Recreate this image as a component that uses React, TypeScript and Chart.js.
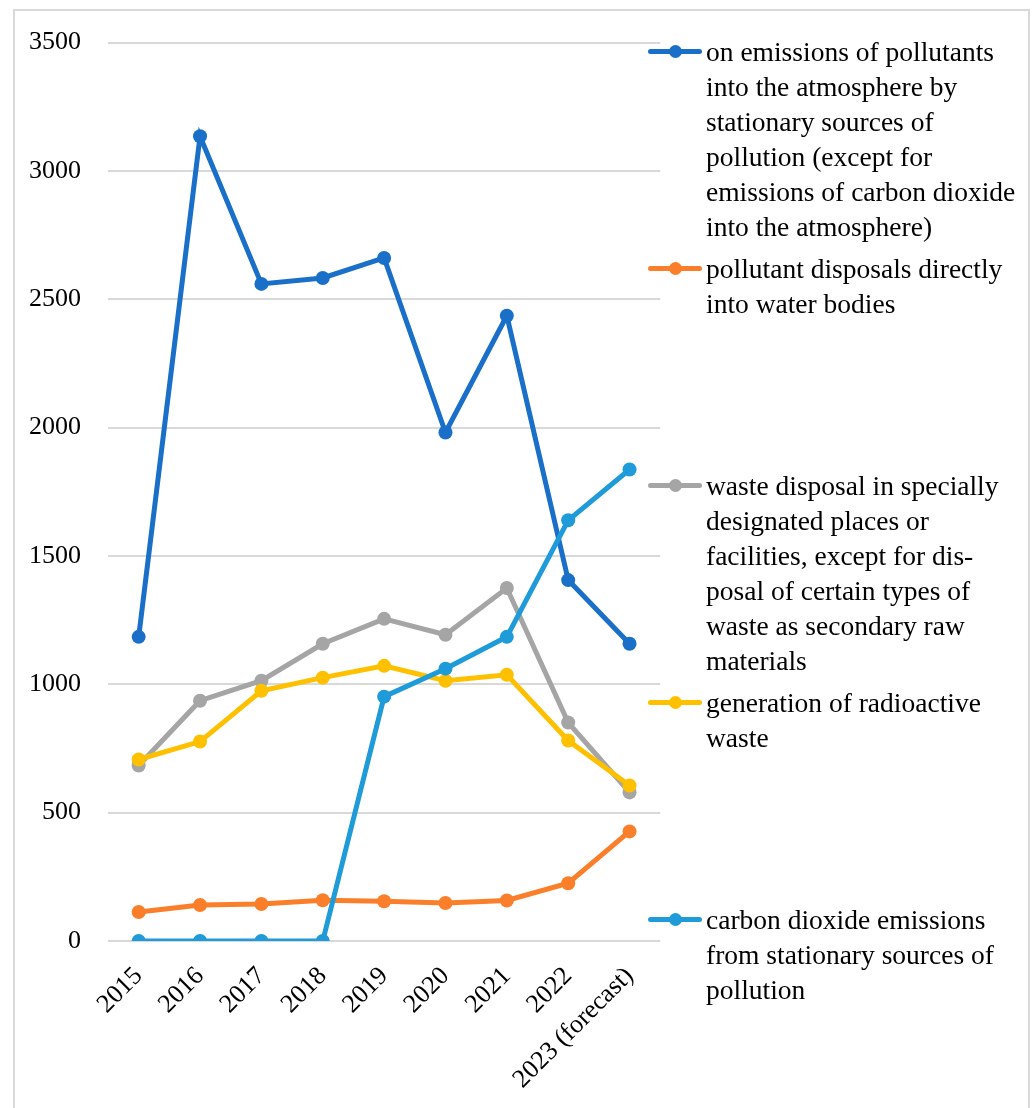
import React, { useEffect, useRef } from "react";
import { Chart, registerables } from "chart.js";

Chart.register(...registerables);

const categories = ["2015", "2016", "2017", "2018", "2019", "2020", "2021", "2022", "2023 (forecast)"];

const seriesNames = [
  ["on emissions of pollutants", "into the atmosphere by", "stationary sources of", "pollution (except for", "emissions of carbon dioxide", "into the atmosphere)"],
  ["pollutant disposals directly", "into water bodies"],
  ["waste disposal in specially", "designated places or", "facilities, except for dis-", "posal of certain types of", "waste as secondary raw", "materials"],
  ["generation of radioactive", "waste"],
  ["carbon dioxide emissions", "from stationary sources of", "pollution"],
];

const atmosphereValues = [1185, 3135, 2560, 2583, 2661, 1981, 2436, 1406, 1158];
const waterValues = [113, 140, 144, 159, 155, 148, 158, 225, 427];
const wasteValues = [684, 936, 1014, 1158, 1255, 1193, 1375, 851, 579];
const radioactiveValues = [707, 777, 975, 1026, 1072, 1014, 1037, 781, 606];
const co2Values = [0, 0, 0, 0, 952, 1061, 1185, 1639, 1837];

const yTicks = [0, 500, 1000, 1500, 2000, 2500, 3000, 3500];

const colors = ["#1A6FC8", "#FB7F2A", "#A5A5A5", "#FFC000", "#1E9BD8"];
const allValues = [atmosphereValues, waterValues, wasteValues, radioactiveValues, co2Values];

const FONT = "'Liberation Serif', 'Times New Roman', serif";

export default function App() {
  const canvasRef = useRef<HTMLCanvasElement | null>(null);

  useEffect(() => {
    const canvas = canvasRef.current;
    if (!canvas) return;
    const chart = new Chart(canvas, {
      type: "line",
      data: {
        labels: categories,
        datasets: allValues.map((vals, i) => ({
          label: seriesNames[i].join(" "),
          data: vals,
          borderColor: colors[i],
          backgroundColor: colors[i],
          pointBackgroundColor: colors[i],
          pointBorderColor: colors[i],
          borderWidth: 5,
          pointRadius: 7,
          pointBorderWidth: 0,
          tension: 0,
          fill: false,
          order: allValues.length - 1 - i,
        })),
      },
      options: {
        animation: false,
        responsive: false,
        maintainAspectRatio: false,
        layout: { padding: { top: 40, left: 0, right: 0, bottom: 0 } },
        plugins: {
          legend: { display: false },
          tooltip: { enabled: false },
        },
        scales: {
          x: {
            type: "category",
            offset: true,
            grid: { display: false, drawTicks: false },
            border: { display: false },
            ticks: {
              minRotation: 45,
              maxRotation: 45,
              autoSkip: false,
              padding: 20,
              color: "#000",
              font: { family: FONT, size: 26 },
            },
            afterFit: (scale: any) => {
              scale.height = 167;
            },
          },
          y: {
            min: 0,
            max: 3500,
            grid: { color: "#D9D9D9", lineWidth: 2, drawTicks: false },
            border: { display: false },
            afterBuildTicks: (scale: any) => {
              scale.ticks = yTicks.map((v) => ({ value: v }));
            },
            ticks: {
              padding: 27,
              color: "#000",
              font: { family: FONT, size: 26 },
              callback: (v: any) => String(v),
            },
            afterFit: (scale: any) => {
              scale.width = 108;
            },
          },
        },
      },
    });
    return () => chart.destroy();
  }, []);

  return (
    <div style={{ position: "absolute", left: 0, top: 0, width: 1036, height: 1108, overflow: "hidden", background: "#fff" }}>
      <div
        style={{
          position: "absolute",
          left: 13,
          top: 9,
          width: 1017,
          height: 1120,
          border: "2px solid #D9D9D9",
          boxSizing: "border-box",
        }}
      />
      <canvas ref={canvasRef} width={672} height={1108} style={{ position: "absolute", left: 0, top: 0 }} />
      {seriesNames.map((lines, i) => (
        <div key={i} style={{ position: "absolute", left: 648, top: 51 + i * 217 - 17.5, width: 380 }}>
          <div style={{ position: "absolute", left: 0, top: 15, width: 54, height: 5, borderRadius: 3, background: colors[i] }} />
          <div style={{ position: "absolute", left: 21, top: 11, width: 13, height: 13, borderRadius: "50%", background: colors[i] }} />
          <div
            style={{
              position: "absolute",
              left: 58,
              top: 0,
              fontFamily: FONT,
              fontSize: 27.5,
              lineHeight: "35px",
              color: "#000",
              whiteSpace: "nowrap",
            }}
          >
            {lines.map((l, j) => (
              <div key={j}>{l}</div>
            ))}
          </div>
        </div>
      ))}
    </div>
  );
}
